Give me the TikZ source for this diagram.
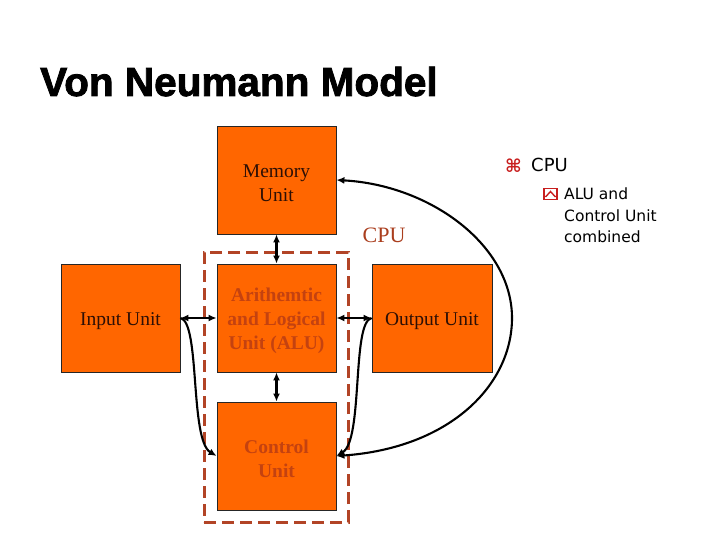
\documentclass[tikz,border=0pt]{standalone}
\usepackage{fontspec}
\setmainfont{Liberation Serif}
\newfontfamily\titlefont{Liberation Sans}[FakeBold=2]
\newfontfamily\bulletfont{DejaVu Sans}
\usetikzlibrary{arrows.meta}
\definecolor{boxfill}{RGB}{255,102,0}
\definecolor{alutext}{RGB}{196,66,16}
\definecolor{dashcol}{RGB}{178,68,38}
\definecolor{cputext}{RGB}{170,62,30}
\definecolor{darktext}{RGB}{45,15,5}
\definecolor{bulletred}{RGB}{200,30,30}
\tikzset{
  unitbox/.style={draw=black!85, line width=0.8pt, fill=boxfill, minimum width=119pt,
    minimum height=108pt, inner sep=0pt},
  unittext/.style={inner sep=0pt, align=center, font=\fontsize{19.5}{24}\selectfont, text=darktext},
  cputext/.style={unittext, text=alutext, font=\fontsize{19.5}{24}\selectfont\bfseries},
  link/.style={line width=2.1pt, {Latex[length=8pt,width=7pt]}-{Latex[length=8pt,width=7pt]}},
  curvelink/.style={line width=2.1pt, -{Latex[length=8pt,width=7pt]}},
  cpuframe/.style={draw=dashcol, line width=3pt, dash pattern=on 12pt off 6pt,
    minimum width=144pt, minimum height=270pt, inner sep=0pt},
}
\begin{document}
\begin{tikzpicture}[x=1pt,y=-1pt]
\useasboundingbox (0,0) rectangle (720,540);
% title
\node[anchor=base west, inner sep=0pt, font=\titlefont\bfseries\fontsize{40.5}{44}\selectfont] (title) at (40,96) {Von Neumann Model};
% CPU frame
\node[cpuframe] (cpu) at (276,387) {};
% units
\node[unitbox] (mem) at (276.5,180) {};
\node[unitbox] (inp) at (120.5,318) {};
\node[unitbox] (alu) at (276.5,318) {};
\node[unitbox] (ctl) at (276.5,456) {};
\node[unitbox, minimum width=120pt] (out) at (432,318) {};
\node[unittext] (memtext) at ([yshift=-3pt]mem.center) {Memory\\Unit};
\node[unittext] (inptext) at ([yshift=-3pt]inp.center) {Input Unit};
\node[cputext] (alutext) at ([yshift=-3pt]alu.center) {Arithemtic\\and Logical\\Unit (ALU)};
\node[cputext] (ctltext) at ([yshift=-3pt]ctl.center) {Control\\Unit};
\node[unittext] (outtext) at ([yshift=-3pt]out.center) {Output Unit};
\node[text=cputext, font=\fontsize{22}{26}\selectfont, inner sep=0pt] (cpulabel) at (384,235) {CPU};
% connectors
\draw[link] (mem.south) -- (alu.north);
\draw[link] (alu.south) -- (ctl.north);
\draw[link] (inp.east) -- (alu.west);
\draw[link] (alu.east) -- (out.west);
\draw[curvelink] (inp.east) .. controls +(20,4) and +(-27,-16) .. (ctl.west);
\draw[curvelink] (out.west) .. controls +(-20,4) and +(27,-16) .. (ctl.east);
\coordinate (bend) at (512,318);
\draw[link] (mem.east) .. controls (430,185) and (512,245) .. (bend)
  .. controls (512,385) and (450,448) .. (ctl.east);
% bullets
\node[text=bulletred, font=\bulletfont\bfseries\fontsize{18}{18}\selectfont, inner sep=0pt] (b1) at (513.5,165.5) {⌘};
\node[anchor=base west, inner sep=0pt, font=\bulletfont\fontsize{18}{20}\selectfont] (t1) at (531,172) {CPU};
\node[draw=bulletred, line width=1.4pt, minimum width=13pt, minimum height=11pt, inner sep=0pt] (b2) at (550.5,194) {};
\draw[bulletred, line width=1.4pt] (545.5,197) -- (550.5,191.5) -- (555.5,197);
\node[anchor=north west, align=left, inner sep=0pt, font=\bulletfont\fontsize{15.5}{21.5}\selectfont] (t2) at (564,188) {ALU and\\Control Unit\\combined};
\end{tikzpicture}
\end{document}
